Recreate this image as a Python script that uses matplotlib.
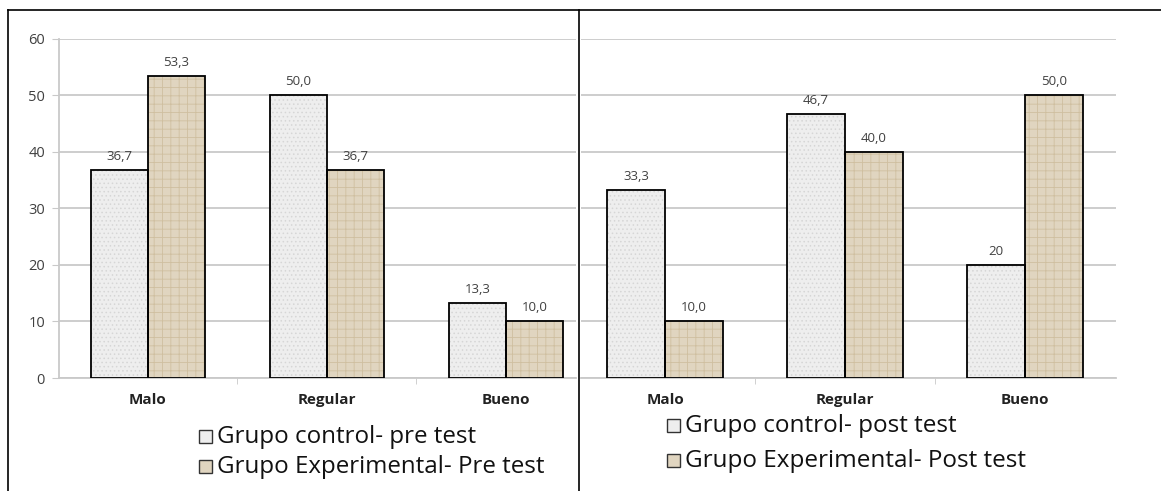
import matplotlib.pyplot as plt
from matplotlib.lines import Line2D
from matplotlib.patches import Rectangle

# data
categorias = ["Malo", "Regular", "Bueno"]
pre_control = [36.7, 50.0, 13.3]
pre_experimental = [53.3, 36.7, 10.0]
post_control = [33.3, 46.7, 20.0]
post_experimental = [10.0, 40.0, 50.0]
pre_control_txt = ["36,7", "50,0", "13,3"]
pre_experimental_txt = ["53,3", "36,7", "10,0"]
post_control_txt = ["33,3", "46,7", "20"]
post_experimental_txt = ["10,0", "40,0", "50,0"]
leyenda_pre = ["Grupo control- pre test", "Grupo Experimental- Pre test"]
leyenda_post = ["Grupo control- post test", "Grupo Experimental- Post test"]

W, H = 1161, 491
plt.rcParams['font.family'] = ['Open Sans', 'DejaVu Sans']
plt.rcParams['hatch.linewidth'] = 0.6

CTRL_FACE, CTRL_HATCH = "#eeeeee", "#d6d6d6"
EXP_FACE, EXP_HATCH = "#e0d5c0", "#cfbfa0"
GRID = "#c9c9c9"
TXT = "#404040"
bw = 0.32

fig = plt.figure(figsize=(W / 100, H / 100), dpi=100)

def px(x0, y0, x1, y1):
    # pixel box -> figure fraction [left, bottom, width, height]
    return [x0 / W, 1 - y1 / H, (x1 - x0) / W, (y1 - y0) / H]

def barras(ax, ctrl, exp, ctrl_txt, exp_txt):
    x = range(len(categorias))
    xc = [i - bw / 2 for i in x]
    xe = [i + bw / 2 for i in x]
    # textured fill first, black outline on top
    ax.bar(xc, ctrl, bw, color=CTRL_FACE, edgecolor=CTRL_HATCH, hatch="....", linewidth=0, zorder=2)
    ax.bar(xe, exp, bw, color=EXP_FACE, edgecolor=EXP_HATCH, hatch="++", linewidth=0, zorder=2)
    ax.bar(xc, ctrl, bw, fill=False, edgecolor="black", linewidth=1.3, zorder=3)
    ax.bar(xe, exp, bw, fill=False, edgecolor="black", linewidth=1.3, zorder=3)
    for xi, v, t in zip(xc, ctrl, ctrl_txt):
        ax.annotate(t, (xi, v), xytext=(0, 5), textcoords="offset points",
                    ha="center", va="bottom", fontsize=9.5, color=TXT)
    for xi, v, t in zip(xe, exp, exp_txt):
        ax.annotate(t, (xi, v), xytext=(0, 5), textcoords="offset points",
                    ha="center", va="bottom", fontsize=9.5, color=TXT)
    ax.set_ylim(0, 60)
    ax.set_yticks(range(0, 61, 10))
    ax.yaxis.grid(True, color=GRID, linewidth=1.3, zorder=0)
    ax.set_axisbelow(True)
    ax.set_xticks(list(x))
    ax.set_xticklabels(categorias, fontsize=11, fontweight="bold", color="#222222")
    ax.set_xticks([0.5, 1.5], minor=True)
    ax.tick_params(axis="x", which="major", length=0, pad=11)
    ax.tick_params(axis="x", which="minor", length=4, color=GRID, direction="out")
    for s in ["top", "right"]:
        ax.spines[s].set_visible(False)
    ax.spines["bottom"].set_color(GRID)
    ax.spines["bottom"].set_linewidth(1.3)

ax1 = fig.add_axes(px(59, 38.5, 576, 378))
barras(ax1, pre_control, pre_experimental, pre_control_txt, pre_experimental_txt)
ax1.set_xlim(-0.497, 2.391)
ax1.spines["left"].set_color(GRID)
ax1.spines["left"].set_linewidth(1.3)
ax1.tick_params(axis="y", length=5, color=GRID, labelsize=10.5, labelcolor=TXT, pad=5)

ax2 = fig.add_axes(px(581, 38.5, 1116, 378))
barras(ax2, post_control, post_experimental, post_control_txt, post_experimental_txt)
ax2.set_xlim(-0.467, 2.506)
ax2.spines["left"].set_visible(False)
ax2.tick_params(axis="y", length=0, labelleft=False)

def leyenda(xm, ys, labels, size):
    faces = [CTRL_FACE, EXP_FACE]
    for y, lab, fc in zip(ys, labels, faces):
        fig.add_artist(Rectangle((xm / W, 1 - (y + 6.5) / H), 13 / W, 13 / H,
                                 facecolor=fc, edgecolor="#333333", linewidth=1.0,
                                 transform=fig.transFigure))
        fig.text((xm + 18) / W, 1 - (y + 1) / H, lab, fontsize=size, color="#111111",
                 ha="left", va="center")

leyenda(199, [436, 466], leyenda_pre, 17.4)
leyenda(667, [425, 460], leyenda_post, 17.5)

# table frame round the two charts
lw = 1.2
fig.add_artist(Line2D([8 / W, 1], [1 - 9.5 / H] * 2, color="black", lw=lw, transform=fig.transFigure))
fig.add_artist(Line2D([8 / W] * 2, [0, 1 - 9.5 / H], color="black", lw=lw, transform=fig.transFigure))
fig.add_artist(Line2D([579 / W] * 2, [0, 1 - 9.5 / H], color="black", lw=lw, transform=fig.transFigure))

fig.savefig("out.png", dpi=100)
